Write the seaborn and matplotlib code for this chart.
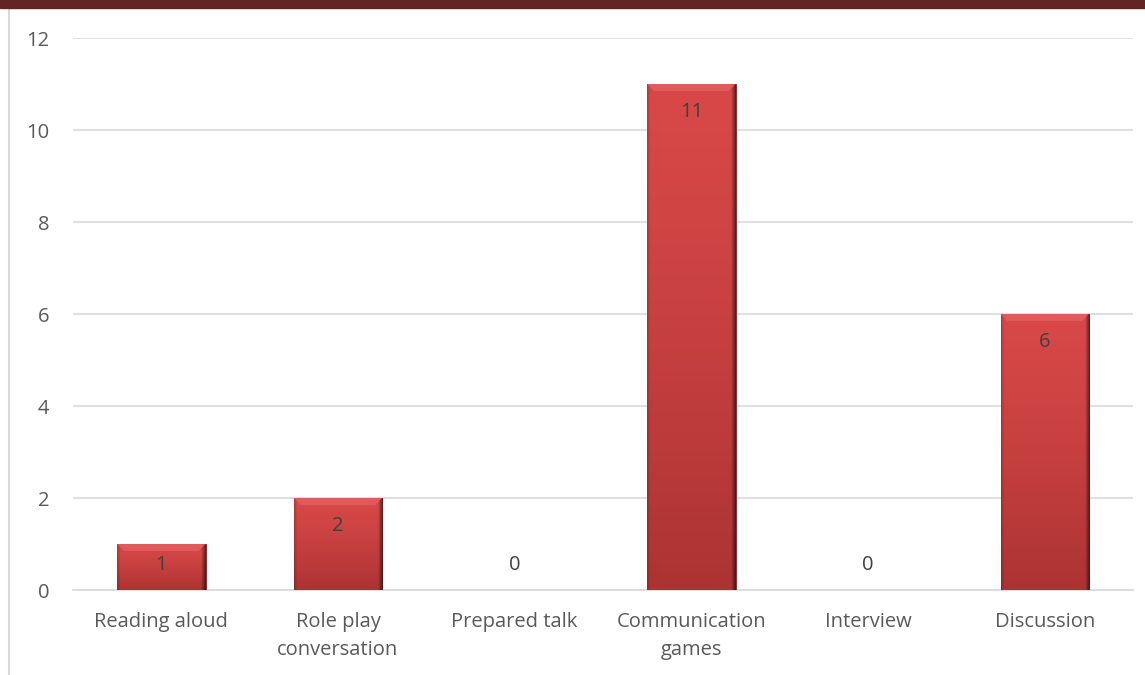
import numpy as np
import pandas as pd
import matplotlib
matplotlib.use("Agg")
import matplotlib.pyplot as plt
from matplotlib.colors import to_rgb
from matplotlib.patches import Polygon
import seaborn as sns

categories = ["Reading aloud", "Role play\nconversation", "Prepared talk",
              "Communication\ngames", "Interview", "Discussion"]
counts = [1, 2, 0, 11, 0, 6]
y_ticks = [0, 2, 4, 6, 8, 10, 12]

df = pd.DataFrame({"activity": categories, "count": counts})

sns.set_theme(style="white")
plt.rcParams["font.family"] = ["Open Sans", "DejaVu Sans"]

W, H = 1145, 675
fig = plt.figure(figsize=(W / 100, H / 100), dpi=100)
ax = fig.add_axes([73 / W, (H - 590) / H, (1133 - 73) / W, (590 - 38) / H])

sns.barplot(data=df, x="activity", y="count", ax=ax, color="#D24444",
            width=0.5, edgecolor="#7A1E1E", linewidth=0.6, saturation=1, zorder=3)


def bar_fill(n_rows=200, n_cols=90):
    """RGB fill: bright red at the top fading darker at the bottom, shaded sides."""
    top = np.array(to_rgb("#D84848"))
    bottom = np.array(to_rgb("#AC3333"))
    t = np.linspace(0, 1, n_rows)[:, None] ** 1.3
    img = top[None, None, :] * (1 - t[..., None]) + bottom[None, None, :] * t[..., None]
    img = np.repeat(img, n_cols, axis=1)
    x = np.arange(n_cols)
    side = np.ones(n_cols)
    side[:4] = np.linspace(0.82, 1.0, 4)
    side[-5:] = np.linspace(0.95, 0.45, 5)
    return np.clip(img * side[None, :, None], 0, 1)


fill = bar_fill()
x_unit_px = (1133 - 73) / len(categories)
y_unit_px = (590 - 38) / 12
for patch in ax.patches:
    x0, y0 = patch.get_x(), patch.get_y()
    w, h = patch.get_width(), patch.get_height()
    if h <= 0:
        continue
    im = ax.imshow(fill, aspect="auto", zorder=3.5, origin="upper",
                   extent=(x0, x0 + w, y0, y0 + h), interpolation="bilinear")
    im.set_clip_path(patch)
    # bevelled highlight across the top edge
    dx = 7 / x_unit_px
    dy = 7 / y_unit_px
    top = y0 + h
    bevel = Polygon([(x0, top), (x0 + w, top), (x0 + w - dx, top - dy), (x0 + dx, top - dy)],
                    closed=True, facecolor="#E46464", edgecolor="none", alpha=0.75, zorder=3.6)
    ax.add_patch(bevel)

ax.set_xlim(-0.5, len(categories) - 0.5)
ax.set_ylim(0, 12)
ax.set_yticks(y_ticks)
ax.set_xlabel("")
ax.set_ylabel("")
ax.yaxis.grid(True, color="#D9D9D9", linewidth=1.2, zorder=0)
ax.set_axisbelow(True)
for s in ["top", "right", "left"]:
    ax.spines[s].set_visible(False)
ax.spines["bottom"].set_color("#D9D9D9")
ax.spines["bottom"].set_linewidth(1.2)
ax.tick_params(axis="both", length=0, colors="#595959", labelsize=14.5)
ax.tick_params(axis="y", pad=17)
ax.tick_params(axis="x", pad=16)
for lbl in ax.get_xticklabels():
    lbl.set_linespacing(1.5)

# value labels just inside the top of each bar
for i, v in enumerate(counts):
    ypos = max(v - 0.6, 0.55)
    ax.text(i, ypos, str(v), ha="center", va="center", fontsize=14.5,
            color="#404040", zorder=5)

# frame decoration: dark band across the top and thin rule down the left
fig.patches.append(plt.Rectangle((0, 1 - 8 / H), 1, 8 / H, transform=fig.transFigure,
                                 color="#632523", zorder=10))
fig.lines.append(plt.Line2D([9 / W, 9 / W], [0, 1 - 8 / H], transform=fig.transFigure,
                            color="#D9D9D9", linewidth=1.5))

fig.savefig("out.png", dpi=100, facecolor="white")
